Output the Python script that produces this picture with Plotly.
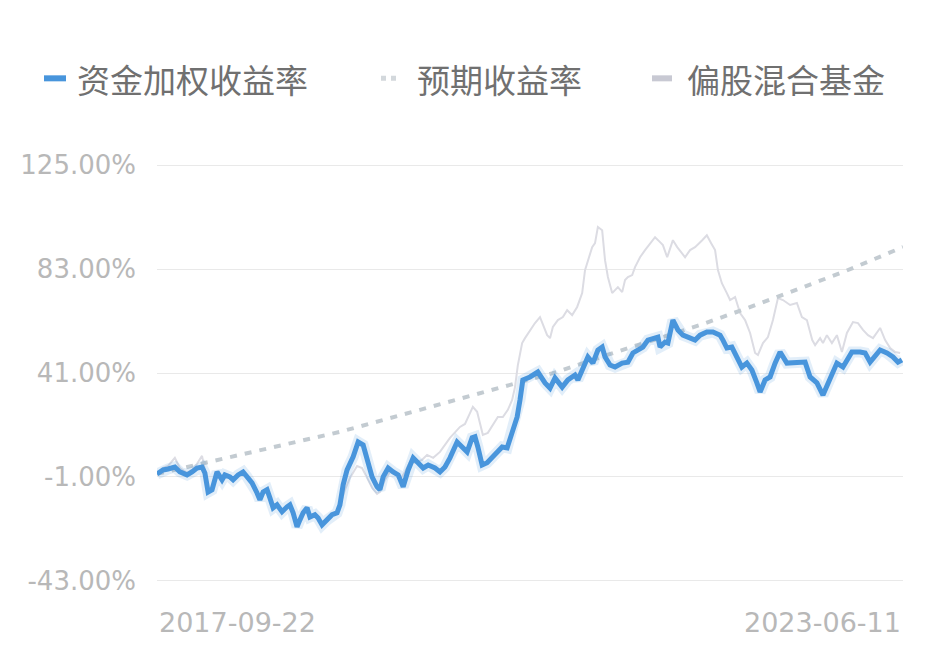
import plotly.graph_objects as go
import pandas as pd

# ---------------- data ----------------
start_date = "2017-09-22"
end_date = "2023-06-11"
x_tick_labels = ["2017-09-22", "2023-06-11"]

y_tick_vals = [-43, -1, 41, 83, 125]
y_tick_text = ["-43.00%", "-1.00%", "41.00%", "83.00%", "125.00%"]

series_names = ["资金加权收益率", "预期收益率", "偏股混合基金"]

# 资金加权收益率 (days since start, %)
blue_days = [0, 17, 31, 50, 64, 84, 98, 112, 126, 134,
             143, 154, 168, 182, 190, 204, 213, 227, 241, 252,
             266, 280, 288, 297, 308, 316, 325, 336, 350, 364,
             372, 381, 392, 400, 409, 420, 428, 442, 451, 462,
             476, 490, 504, 512, 521, 532, 549, 563, 577, 588,
             602, 616, 624, 633, 647, 661, 675, 689, 703, 717,
             731, 745, 759, 778, 792, 806, 820, 840, 854, 868,
             882, 890, 898, 910, 924, 938, 952, 966, 980, 988,
             996, 1008, 1016, 1024, 1044, 1066, 1086, 1100, 1114, 1134,
             1150, 1170, 1178, 1192, 1206, 1220, 1234, 1246, 1254, 1268,
             1282, 1302, 1318, 1332, 1346, 1360, 1374, 1388, 1402, 1408,
             1422, 1430, 1444, 1458, 1472, 1486, 1506, 1520, 1539, 1556,
             1576, 1584, 1595, 1609, 1623, 1637, 1651, 1665, 1679, 1688,
             1702, 1716, 1730, 1744, 1763, 1800, 1814, 1828, 1847, 1864,
             1884, 1903, 1920, 1945, 1968, 1982, 1996, 2024, 2043, 2060,
             2074, 2085]
blue_vals = [0.2, 1.8, 2.2, 3.0, 1.0, -0.2, 1.0, 2.6, 3.0, 0.6,
             -7.1, -6.2, 1.0, -2.2, -0.2, -1.0, -2.2, -0.2, 1.0, -1.0,
             -3.4, -7.5, -10.3, -7.1, -6.2, -9.5, -13.5, -12.3, -15.1, -13.1,
             -12.3, -15.5, -21.2, -18.4, -15.5, -13.5, -17.2, -16.3, -17.6, -20.4,
             -18.4, -16.3, -15.5, -12.3, -4.2, 1.8, 7.1, 13.1, 11.9, 5.9,
             -1.0, -5.0, -6.2, -1.0, 2.6, 1.0, -0.2, -5.0, 1.8, 6.7,
             4.7, 2.6, 3.8, 2.6, 1.0, 3.0, 6.7, 13.1, 11.1, 9.1,
             14.8, 15.2, 11.1, 3.8, 4.7, 6.7, 9.1, 11.1, 10.7, 14.8,
             18.0, 23.2, 30.1, 38.2, 39.4, 41.4, 37.0, 34.9, 39.0, 35.3,
             38.2, 40.2, 38.2, 43.4, 47.5, 45.0, 50.3, 51.5, 47.5, 44.2,
             43.4, 45.0, 45.4, 49.1, 50.3, 51.5, 54.3, 55.1, 55.5, 51.5,
             53.5, 53.1, 62.4, 58.4, 56.3, 55.5, 54.3, 56.3, 57.6, 57.6,
             56.3, 54.3, 51.1, 51.5, 47.5, 43.4, 45.0, 42.2, 37.0, 33.3,
             38.2, 39.4, 45.0, 49.5, 45.0, 45.0, 45.4, 39.4, 37.0, 32.1,
             39.4, 45.0, 43.4, 49.5, 49.5, 49.1, 45.4, 50.3, 49.1, 47.5,
             45.4, 46.3]

# 预期收益率
expect_days = [0, 134, 316, 512, 736, 876, 996, 1119, 1260, 1380, 1520, 1654, 1786, 1920, 2088]
expect_vals = [0.2, 4.7, 10.7, 17.2, 26.1, 31.7, 36.2, 41.4, 48.3, 53.9, 60.4, 67.3, 74.5, 81.8, 91.9]

# 偏股混合基金
fund_days = [0, 17, 31, 50, 64, 84, 98, 112, 126, 134,
             143, 154, 168, 182, 190, 204, 213, 227, 241, 252,
             266, 280, 288, 297, 308, 316, 325, 336, 350, 364,
             372, 381, 392, 400, 409, 420, 428, 442, 451, 462,
             476, 490, 504, 512, 526, 540, 560, 574, 588, 602,
             616, 624, 638, 652, 666, 680, 694, 708, 722, 742,
             756, 773, 792, 820, 848, 862, 876, 884, 896, 904,
             912, 926, 940, 954, 968, 982, 994, 1002, 1010, 1022,
             1030, 1044, 1058, 1072, 1080, 1092, 1100, 1108, 1122, 1136,
             1148, 1162, 1176, 1190, 1198, 1206, 1218, 1226, 1234, 1246,
             1254, 1262, 1274, 1282, 1290, 1302, 1310, 1318, 1330, 1338,
             1352, 1366, 1380, 1394, 1408, 1416, 1428, 1436, 1444, 1456,
             1470, 1478, 1492, 1506, 1526, 1539, 1551, 1562, 1570, 1581,
             1595, 1604, 1618, 1632, 1646, 1660, 1674, 1682, 1696, 1710,
             1724, 1738, 1752, 1772, 1791, 1805, 1819, 1834, 1842, 1856,
             1864, 1875, 1889, 1903, 1917, 1931, 1948, 1962, 1976, 1990,
             2004, 2024, 2038, 2052, 2066, 2080]
fund_vals = [0.2, 2.6, 3.4, 6.7, 2.6, 0.6, 1.8, 4.3, 7.5, 1.8,
             -6.2, -5.8, 1.4, -1.8, 0.2, -0.6, -1.8, 0.2, 1.4, -0.6,
             -3.0, -7.1, -9.9, -6.7, -5.8, -9.1, -13.1, -11.9, -14.7, -12.7,
             -11.9, -15.1, -20.8, -18.0, -15.1, -13.1, -16.8, -15.9, -17.2, -20.0,
             -18.0, -15.9, -15.1, -12.7, -6.2, -1.4, 3.4, 2.6, -1.4, -5.4,
             -7.9, -7.1, -2.2, 1.0, 0.2, -2.2, 1.0, 5.1, 4.7, 5.9,
             7.9, 6.7, 9.1, 14.8, 19.2, 20.4, 24.8, 27.3, 25.3, 20.0,
             16.0, 16.8, 20.0, 23.2, 23.2, 26.1, 30.1, 35.3, 44.2, 53.1,
             55.1, 58.4, 61.2, 63.6, 60.4, 56.3, 55.1, 59.6, 62.4, 63.6,
             66.4, 64.4, 67.7, 73.3, 82.6, 86.6, 91.9, 93.5, 100.0, 98.7,
             86.6, 79.8, 73.3, 74.5, 75.7, 73.7, 78.6, 79.8, 80.6, 83.8,
             87.8, 90.7, 93.5, 95.9, 93.9, 92.7, 87.8, 91.5, 94.7, 91.9,
             89.5, 87.8, 90.7, 91.9, 94.7, 96.7, 93.5, 90.7, 82.6, 77.3,
             73.3, 70.5, 71.7, 65.2, 62.4, 57.2, 49.1, 48.3, 53.1, 55.5,
             62.4, 71.3, 70.5, 68.5, 69.3, 63.6, 62.4, 54.3, 52.3, 55.1,
             53.1, 56.3, 53.1, 56.3, 49.5, 57.2, 61.6, 61.2, 58.4, 56.3,
             55.1, 59.2, 54.3, 51.1, 49.5, 49.1]

# ---------------- styles ----------------
BLUE = "#4895dc"
GRAY = "#dcdce3"
DOT = "#c3cbd1"
LABEL = "#b8b8b8"
LEGEND_TEXT = "#707070"

start = pd.Timestamp(start_date)


def to_dates(days):
    return [start + pd.Timedelta(days=d) for d in days]


fig = go.Figure()

fig.add_trace(go.Scatter(x=to_dates(fund_days), y=fund_vals, mode="lines",
                         name=series_names[2], line=dict(color=GRAY, width=2),
                         showlegend=False, hoverinfo="skip"))
fig.add_trace(go.Scatter(x=to_dates(expect_days), y=expect_vals, mode="lines",
                         name=series_names[1], line=dict(color=DOT, width=4, dash="7px,8px"),
                         showlegend=False, hoverinfo="skip"))
fig.add_trace(go.Scatter(x=to_dates(blue_days), y=blue_vals, mode="lines",
                         line=dict(color="rgba(72,149,220,0.16)", width=11),
                         showlegend=False, hoverinfo="skip"))
fig.add_trace(go.Scatter(x=to_dates(blue_days), y=blue_vals, mode="lines",
                         name=series_names[0], line=dict(color=BLUE, width=5),
                         showlegend=False, hoverinfo="skip"))

# plot area in pixels: x 157..903; y range padded slightly so the edge gridlines show
W, H = 943, 652
PL, PR = 157, 903
Y_LO, Y_HI = -43.5, 125.5
PX_PER_UNIT = 416 / 168.0           # 125 -> y=165, -43 -> y=581
PT = 165 - (Y_HI - 125) * PX_PER_UNIT
PB = 581 + (-43 - Y_LO) * PX_PER_UNIT


def px_x(px):
    return (px - PL) / (PR - PL)


def px_y(py):
    return (PB - py) / (PB - PT)


# custom legend (swatches + text)
legend_items = [
    (44, 66, 75, dict(color=BLUE, width=6, dash="solid")),
    (381, 401, 415, dict(color="#d3d8dc", width=5, dash="dot")),
    (652, 672, 685, dict(color="#c8c9d3", width=6, dash="solid")),
]
shapes = []
annotations = []
for (x0, x1, tx, ln), name in zip(legend_items, series_names):
    shapes.append(dict(type="line", xref="paper", yref="paper",
                       x0=px_x(x0), x1=px_x(x1), y0=px_y(78), y1=px_y(78),
                       line=ln))
    annotations.append(dict(xref="paper", yref="paper", x=px_x(tx), y=px_y(79),
                            xanchor="left", yanchor="middle", showarrow=False,
                            text=name,
                            font=dict(family="Noto Sans CJK SC", size=33, color=LEGEND_TEXT)))

# x-axis end labels
annotations.append(dict(xref="paper", yref="paper", x=0, y=px_y(623),
                        xanchor="left", yanchor="middle", showarrow=False,
                        text=x_tick_labels[0],
                        font=dict(family="DejaVu Sans", size=27, color=LABEL)))
annotations.append(dict(xref="paper", yref="paper", x=1, y=px_y(623),
                        xanchor="right", yanchor="middle", showarrow=False,
                        text=x_tick_labels[1],
                        font=dict(family="DejaVu Sans", size=27, color=LABEL)))

fig.update_layout(
    width=W, height=H,
    margin=dict(l=PL, r=W - PR, t=PT, b=H - PB, pad=0),
    paper_bgcolor="white", plot_bgcolor="white",
    showlegend=False,
    shapes=shapes,
    annotations=annotations,
    xaxis=dict(type="date", range=[start_date, end_date], showgrid=False,
               showticklabels=False, zeroline=False, showline=False, ticks=""),
    yaxis=dict(range=[Y_LO, Y_HI], tickvals=y_tick_vals, ticktext=y_tick_text,
               showgrid=True, gridcolor="#e9e9e9", gridwidth=1,
               zeroline=False, showline=False, ticks="",
               ticklabelstandoff=20,
               tickfont=dict(family="DejaVu Sans", size=26, color=LABEL)),
)

fig.write_html("out.html", config={"displayModeBar": False},
               post_script="document.body.style.margin='0';")
